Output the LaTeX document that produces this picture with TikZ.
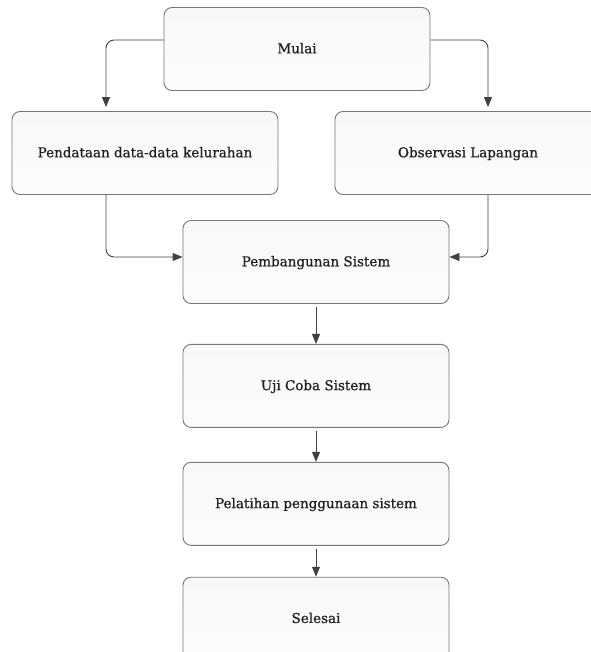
\documentclass[tikz,border=0pt]{standalone}
\usepackage{fontspec}
\setmainfont{DejaVu Serif}[FakeBold=0.6]
\usepackage{xcolor}
\usetikzlibrary{arrows.meta, positioning}
\definecolor{boxLine}{RGB}{120,120,120}
\definecolor{boxTop}{RGB}{248,248,248}
\definecolor{boxMid}{RGB}{226,226,226}
\definecolor{boxBottom}{RGB}{252,252,252}
\definecolor{linkDark}{RGB}{64,64,64}
\definecolor{labelDark}{RGB}{30,30,30}

\begin{document}
\begin{tikzpicture}[
    x=1pt, y=-1pt,
    stage/.style={draw=boxLine, line width=0.9pt, rounded corners=8pt, top color=boxTop, middle color=boxMid, bottom color=boxBottom, minimum width=266pt, minimum height=83pt, align=center, text=labelDark, text height=9.5pt, text depth=1pt, font=\fontsize{13.5}{16}\selectfont},
    link/.style={-{Triangle[length=10pt,width=8pt]}, line width=0.9pt, draw=linkDark, rounded corners=8pt},
    node distance=40pt
]
    \useasboundingbox (0,0) rectangle (590,652);
    \node[stage] (mulai) at (297,49) {Mulai};
    \node[stage] (pendataan) at (145,153) {Pendataan data-data kelurahan};
    \node[stage] (observasi) at (468,153) {Observasi Lapangan};
    \node[stage] (bangun) at (316,262) {Pembangunan Sistem};
    \node[stage, below=of bangun] (ujicoba) {Uji Coba Sistem};
    \node[stage, below=34pt of ujicoba] (pelatihan) {Pelatihan penggunaan sistem};
    \node[stage, below=31pt of pelatihan] (selesai) {Selesai};

    \draw[link, shorten >=4pt] ([yshift=9pt]mulai.west) -| ([xshift=-39pt]pendataan.north);
    \draw[link, shorten >=4pt] ([yshift=9pt]mulai.east) -| ([xshift=20pt]observasi.north);
    \draw[link] ([xshift=-39pt]pendataan.south) |- ([yshift=5pt]bangun.west);
    \draw[link] ([xshift=20pt]observasi.south) |- ([yshift=5pt]bangun.east);
    \draw[link, shorten <=3pt] (bangun) -- (ujicoba);
    \draw[link, shorten <=3pt] (ujicoba) -- (pelatihan);
    \draw[link, shorten <=3pt] (pelatihan) -- (selesai);
\end{tikzpicture}
\end{document}
